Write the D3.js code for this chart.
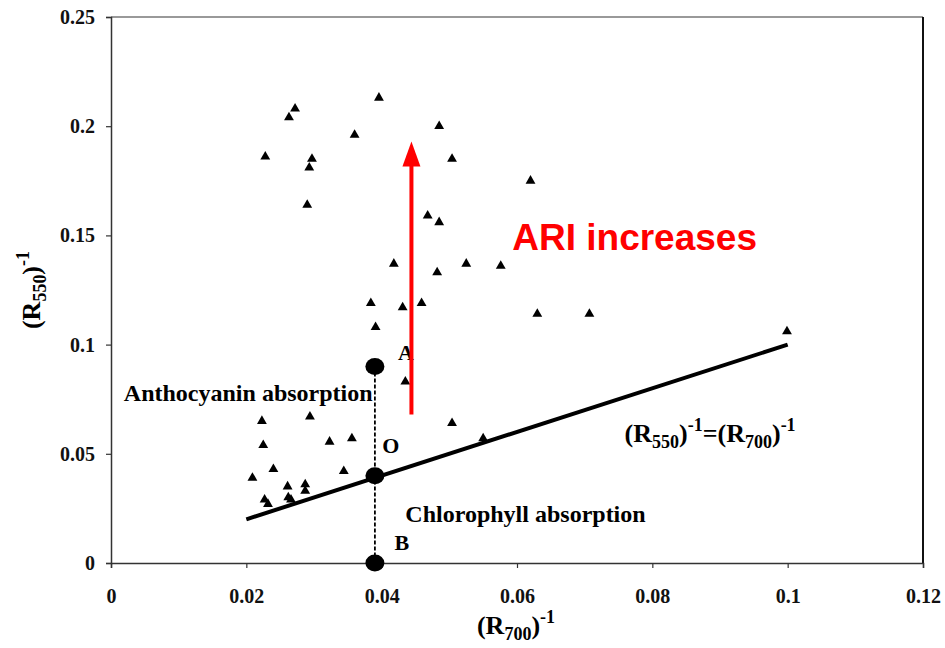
<!DOCTYPE html>
<html>
<head>
<meta charset="utf-8">
<script src="https://cdn.jsdelivr.net/npm/d3@7"></script>
<style>
  body { margin: 0; background: #fff; }
  svg text { font-family: "Liberation Serif", "Times New Roman", serif; font-weight: bold; }
</style>
</head>
<body>
<svg width="945" height="648"></svg>
<script>
// samples: (R700)^-1 and (R550)^-1
const sampleX = [0.0272, 0.0263, 0.0396, 0.0360, 0.0485, 0.0228, 0.0297, 0.0293, 0.0504, 0.0620,
                 0.0290, 0.0468, 0.0485, 0.0418, 0.0525, 0.0576, 0.0482, 0.0384, 0.0431, 0.0459,
                 0.0630, 0.0707, 0.0391, 0.0999, 0.0435, 0.0504, 0.0550, 0.0223, 0.0294, 0.0225,
                 0.0323, 0.0356, 0.0240, 0.0209, 0.0344, 0.0261, 0.0287, 0.0287, 0.0227, 0.0232,
                 0.0262, 0.0266];
const sampleY = [0.208, 0.204, 0.213, 0.196, 0.200, 0.186, 0.185, 0.181, 0.185, 0.175,
                 0.164, 0.159, 0.156, 0.137, 0.137, 0.136, 0.133, 0.119, 0.117, 0.119,
                 0.114, 0.114, 0.108, 0.106, 0.083, 0.064, 0.057, 0.065, 0.067, 0.054,
                 0.0555, 0.057, 0.043, 0.039, 0.042, 0.035, 0.036, 0.033, 0.029, 0.027,
                 0.030, 0.029];

// points A, O, B on the vertical guide
const guideNames = ['A', 'O', 'B'];
const guideX = 0.039;
const guideY = [0.09, 0.04, 0];

// 1:1 line
const lineX = [0.02, 0.1];
const lineY = [0.02, 0.1];

// ARI arrow (x, from, to)
const arrowX = 0.0444;
const arrowY = [0.068, 0.193];

const xTicks = [0, 0.02, 0.04, 0.06, 0.08, 0.1, 0.12];
const yTicks = [0, 0.05, 0.1, 0.15, 0.2, 0.25];

const svg = d3.select('svg');
const margin = { top: 17, right: 22, bottom: 85, left: 111 };
const width = svg.attr('width') - margin.left - margin.right;
const height = svg.attr('height') - margin.top - margin.bottom;

const chartArea = svg.append('g')
  .attr('transform', `translate(${margin.left}, ${margin.top})`);

const xScale = d3.scaleLinear().domain([0, 0.12]).range([0, width]);
const yScale = d3.scaleLinear().domain([0, 0.25]).range([height, 0]);

// frame: top and right edges
chartArea.append('line')
  .attr('x1', 0).attr('x2', width).attr('y1', 0).attr('y2', 0)
  .attr('stroke', '#777').attr('stroke-width', 1.5);
chartArea.append('line')
  .attr('x1', width).attr('x2', width).attr('y1', 0).attr('y2', height)
  .attr('stroke', '#111').attr('stroke-width', 2);

const xAxis = chartArea.append('g')
  .attr('transform', `translate(0, ${height})`)
  .call(d3.axisBottom(xScale).tickValues(xTicks).tickSize(5).tickPadding(21).tickFormat(d => String(d)));
const yAxis = chartArea.append('g')
  .call(d3.axisLeft(yScale).tickValues(yTicks).tickSize(5).tickPadding(11).tickFormat(d => String(d)));

[xAxis, yAxis].forEach(ax => {
  ax.select('.domain').attr('stroke', '#333').attr('stroke-width', 1.5);
  ax.selectAll('.tick line').attr('stroke', '#333').attr('stroke-width', 1.2);
  ax.selectAll('.tick text')
    .attr('fill', '#111')
    .style('font-family', '"Liberation Serif", serif')
    .style('font-weight', 'bold')
    .style('font-size', '20px');
});

// 1:1 line
chartArea.append('path')
  .datum(d3.zip(lineX, lineY))
  .attr('fill', 'none')
  .attr('stroke', '#000')
  .attr('stroke-width', 4)
  .attr('d', d3.line().x(d => xScale(d[0])).y(d => yScale(d[1])));

// dashed guide A-B
chartArea.append('line')
  .attr('x1', xScale(guideX)).attr('x2', xScale(guideX))
  .attr('y1', yScale(d3.max(guideY))).attr('y2', yScale(d3.min(guideY)))
  .attr('stroke', '#000').attr('stroke-width', 1.8)
  .attr('stroke-dasharray', '4,2');

// triangles
chartArea.selectAll('path.sample')
  .data(d3.zip(sampleX, sampleY))
  .join('path')
  .attr('class', 'sample')
  .attr('transform', d => `translate(${xScale(d[0])}, ${yScale(d[1])})`)
  .attr('d', d3.symbol(d3.symbolTriangle, 42))
  .attr('fill', '#000');

// A, O, B dots
chartArea.selectAll('ellipse.guide')
  .data(guideY)
  .join('ellipse')
  .attr('class', 'guide')
  .attr('cx', xScale(guideX))
  .attr('cy', d => yScale(d))
  .attr('rx', 9.5).attr('ry', 8.5)
  .attr('fill', '#000');

// point labels
const labelPos = [[0.0424, 0.093], [0.0401, 0.0504], [0.0419, 0.006]];
chartArea.selectAll('text.guide')
  .data(guideNames)
  .join('text')
  .attr('class', 'guide')
  .attr('x', (d, i) => xScale(labelPos[i][0]))
  .attr('y', (d, i) => yScale(labelPos[i][1]))
  .style('font-size', '22px')
  .text(d => d);

chartArea.append('text')
  .attr('x', xScale(0.0019)).attr('y', yScale(0.0742))
  .style('font-size', '24px')
  .text('Anthocyanin absorption');

chartArea.append('text')
  .attr('x', xScale(0.0435)).attr('y', yScale(0.019))
  .style('font-size', '24px')
  .text('Chlorophyll absorption');

// "(R_sub)^-1" writer; `after` is the text that follows back on the baseline
function rTerm(sel, sub, big, small, after) {
  sel.append('tspan').style('font-size', big + 'px').text('(R');
  sel.append('tspan').style('font-size', small + 'px').attr('dy', small * 0.35).text(sub);
  sel.append('tspan').style('font-size', big + 'px').attr('dy', -small * 0.35).text(')');
  sel.append('tspan').style('font-size', small + 'px').attr('dy', -big * 0.42).text('-1');
  if (after) sel.append('tspan').style('font-size', big + 'px').attr('dy', big * 0.42).text(after);
}

const eq = chartArea.append('text')
  .attr('x', xScale(0.0759)).attr('y', yScale(0.0556));
rTerm(eq, '550', 26, 18, '=');
rTerm(eq, '700', 26, 18);

// axis titles
const xTitle = svg.append('text')
  .attr('x', 516).attr('y', 634)
  .attr('text-anchor', 'middle');
rTerm(xTitle, '700', 26, 18);

const yTitle = svg.append('text')
  .attr('transform', 'translate(40, 290) rotate(-90)')
  .attr('text-anchor', 'middle');
rTerm(yTitle, '550', 26, 18);

// red ARI arrow
const ax = xScale(arrowX);
const ay0 = yScale(arrowY[0]);
const ay1 = yScale(arrowY[1]);
chartArea.append('line')
  .attr('x1', ax).attr('x2', ax).attr('y1', ay0).attr('y2', ay1 + 22)
  .attr('stroke', '#ff0000').attr('stroke-width', 4);
chartArea.append('path')
  .attr('d', `M${ax},${ay1} L${ax - 9},${ay1 + 25} L${ax + 9},${ay1 + 25} Z`)
  .attr('fill', '#ff0000');

chartArea.append('text')
  .attr('x', xScale(0.0593)).attr('y', yScale(0.1433))
  .attr('fill', '#ff0000')
  .style('font-family', '"Liberation Sans", Arial, sans-serif')
  .style('font-weight', 'bold')
  .style('font-size', '37px')
  .text('ARI increases');
</script>
</body>
</html>
